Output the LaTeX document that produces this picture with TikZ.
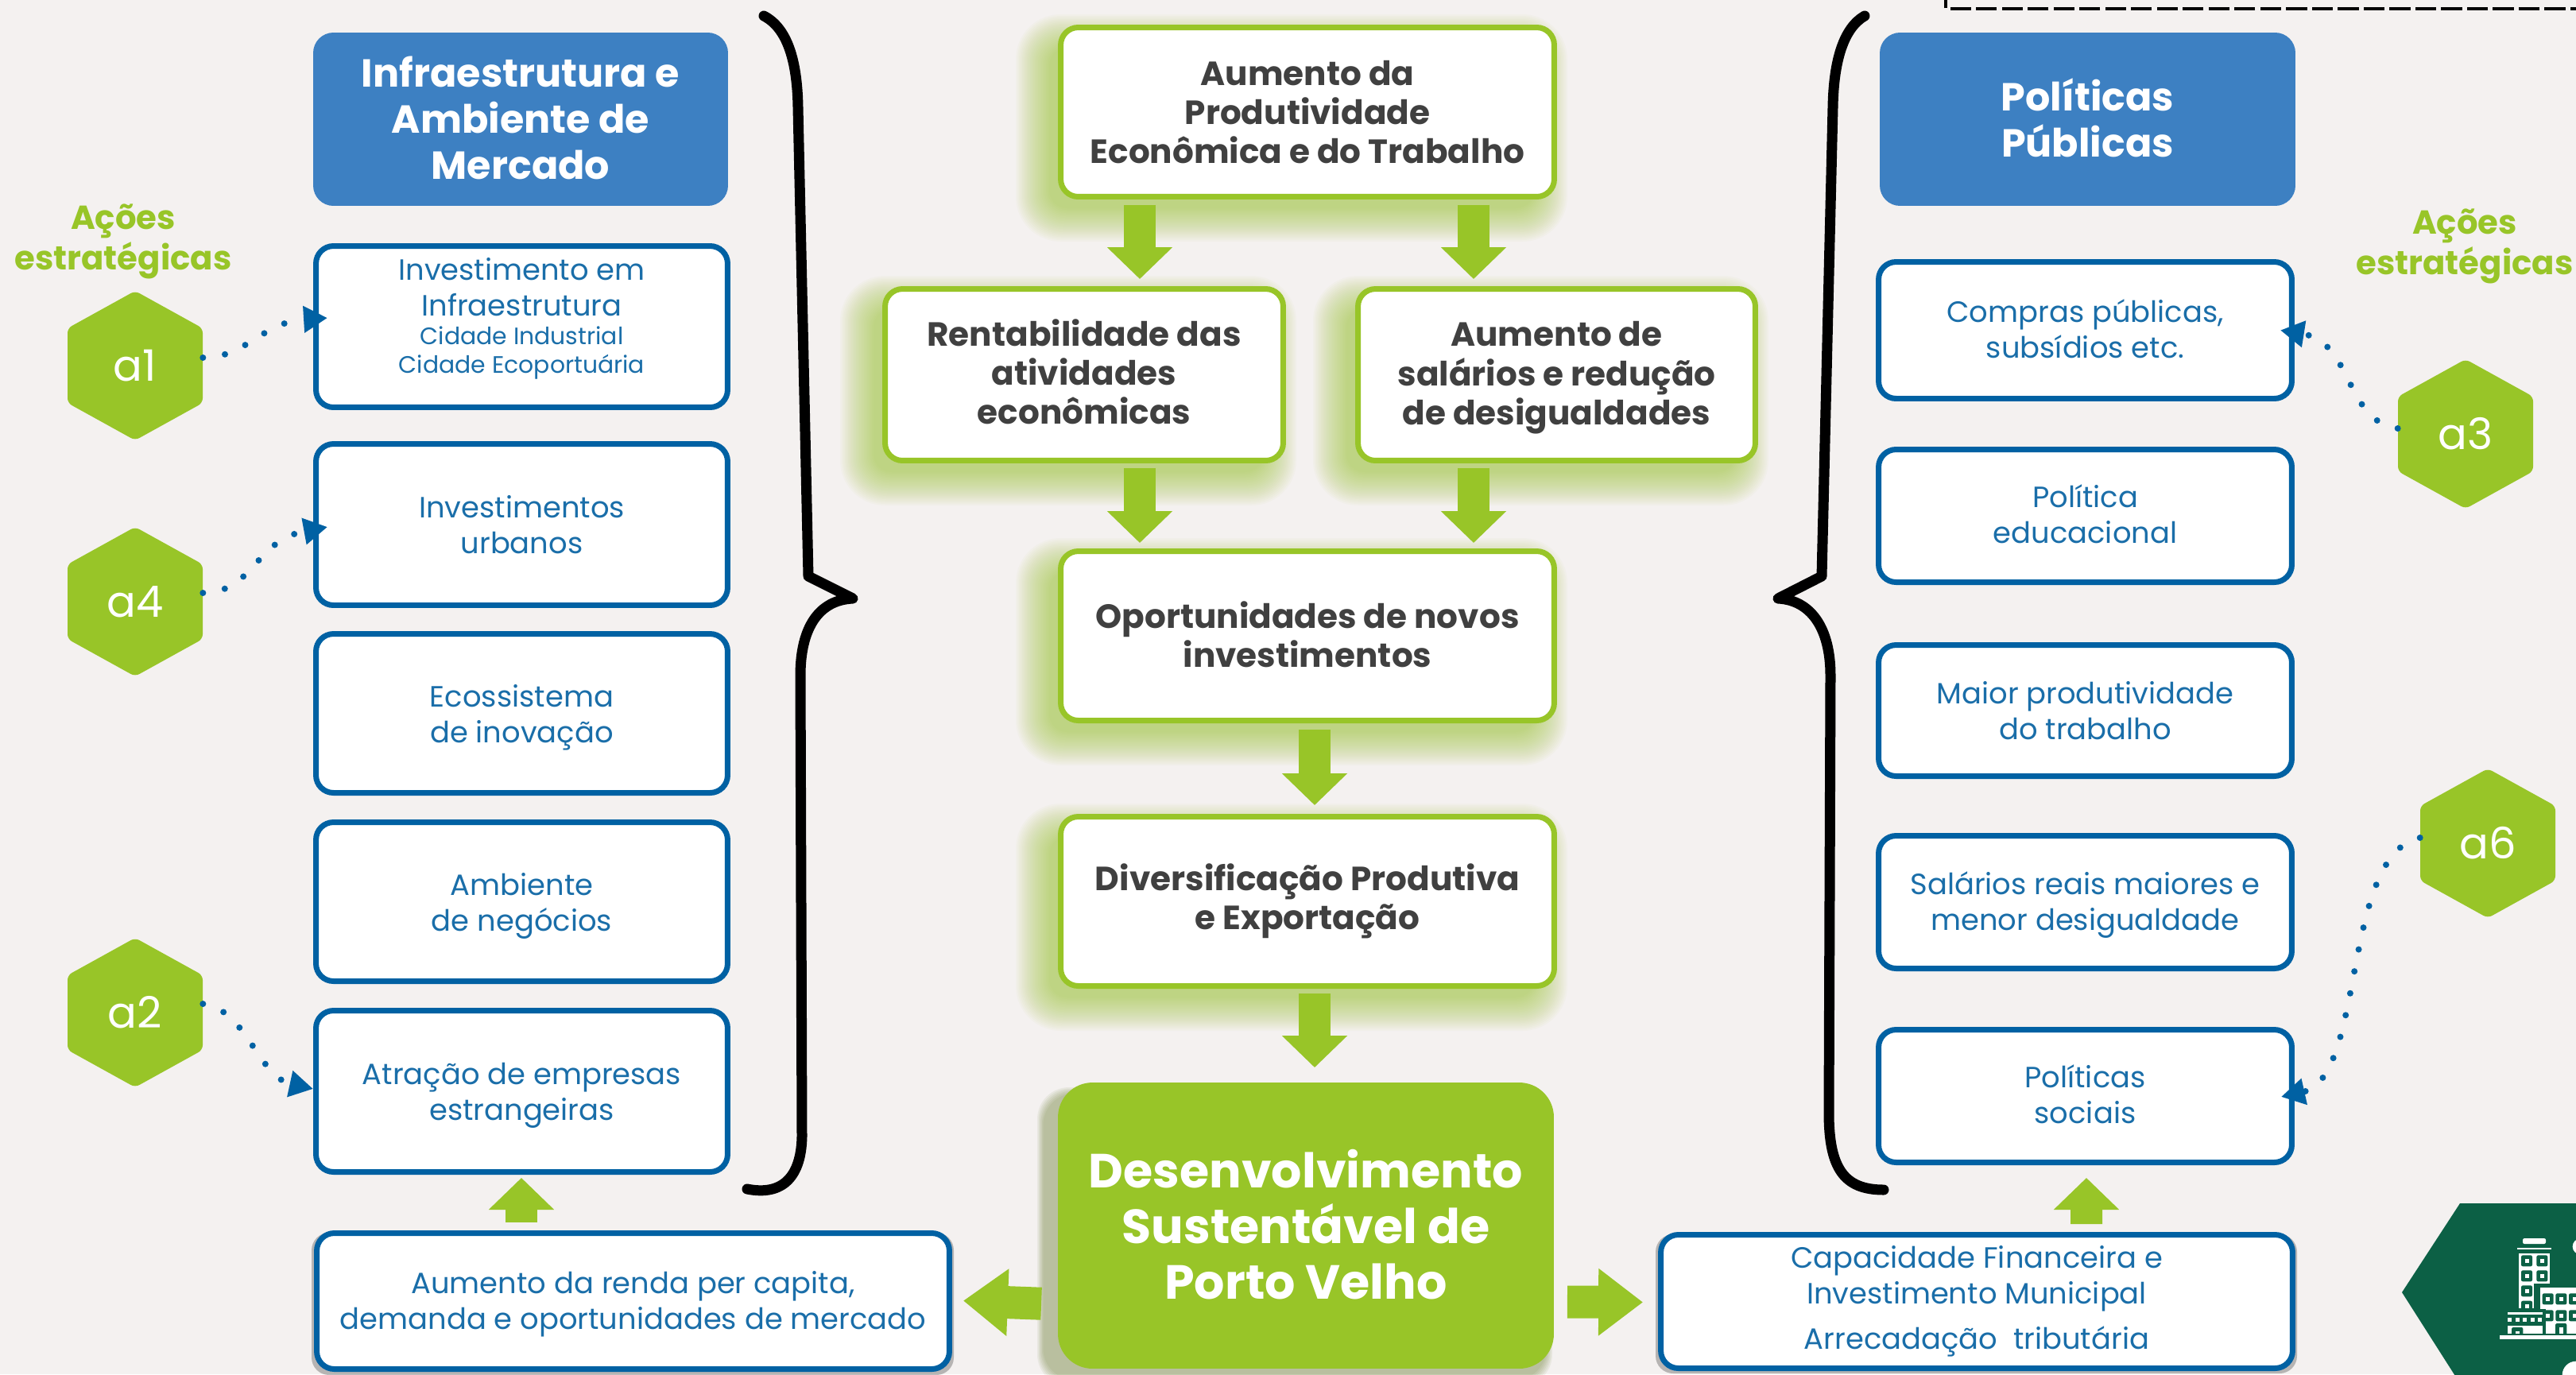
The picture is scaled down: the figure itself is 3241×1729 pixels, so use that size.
\documentclass[tikz,border=0pt]{standalone}
\usepackage{fontspec}
\setmainfont{Poppins}
\usetikzlibrary{arrows.meta,calc}
\definecolor{bgc}{HTML}{F4F1F0}
\definecolor{grn}{HTML}{98C528}
\definecolor{bluea}{HTML}{3D80C2}
\definecolor{blueb}{HTML}{0061A3}
\definecolor{bluet}{HTML}{1A6EA9}
\definecolor{dk}{HTML}{404040}
\definecolor{dkg}{HTML}{0C6045}
\def\PX{0.56906pt}
\newcommand\smf{\fontsize{17}{19}\selectfont}
\newcommand\pbox[7]{%
  \pgfmathsetmacro\cxx{(#2+#4)/2}%
  \pgfmathsetmacro\cyy{(#3+#5)/2}%
  \pgfmathsetmacro\bww{#4-#2-7}%
  \pgfmathsetmacro\bhh{#5-#3-7}%
  \node[#6, minimum width=\bww*\PX, minimum height=\bhh*\PX] (#1) at (\cxx,\cyy) {#7};}
\newcommand\glow[4]{%
  \foreach \k in {0,...,21}{%
    \pgfmathsetmacro\ee{33-2*\k}%
    \fill[grn,opacity=.032,rounded corners=(30+\ee*.8)*\PX]
      ({#1-20-\ee},{#2+20-\ee}) rectangle ({#3-20+\ee},{#4+20+\ee});}}
\newcommand\hexn[3]{%
  \fill[hexfill] (#2,#3-94) -- (#2+85,#3-47) -- (#2+85,#3+47) -- (#2,#3+94) -- (#2-85,#3+47) -- (#2-85,#3-47) -- cycle;
  \node[hexlbl] (#1) at (#2,#3) {#1};}
\tikzset{
  x=0.02cm,y=-0.02cm,
  head/.style={draw=bluea,fill=bluea,line width=7*\PX,rounded corners=22*\PX,text=white,align=center,inner sep=0pt,
     font=\bfseries\fontsize{28}{33}\selectfont},
  blbox/.style={draw=blueb,fill=white,line width=7*\PX,rounded corners=22*\PX,text=bluet,align=center,inner sep=0pt,
     font=\fontsize{21}{25.6}\selectfont},
  gbox/.style={draw=grn,fill=white,line width=7*\PX,rounded corners=22*\PX,text=dk,align=center,inner sep=0pt,
     font=\bfseries\fontsize{24}{28}\selectfont},
  devbox/.style={draw=grn,fill=grn,line width=7*\PX,rounded corners=40*\PX,text=white,align=center,inner sep=0pt,
     font=\bfseries\fontsize{34.3}{40}\selectfont},
  hexfill/.style={fill=grn,rounded corners=6*\PX},
  hexlbl/.style={minimum width=170*\PX,minimum height=188*\PX,inner sep=0pt,text=white,font=\fontsize{31}{36}\selectfont},
  acts/.style={text=grn,align=center,inner sep=0pt,font=\bfseries\fontsize{23.8}{28.6}\selectfont},
  dotconn/.style={blueb,line width=8*\PX,line cap=round,dash pattern=on 0pt off 16pt,
     -{Triangle[length=30*\PX,width=32*\PX]}},
  blockv/.style={grn,line width=40*\PX,-{Triangle[length=40*\PX,width=80*\PX]}},
  blockh/.style={grn,line width=41*\PX,-{Triangle[length=56*\PX,width=81*\PX]}},
  brace/.style={black,line width=13*\PX,line cap=round,line join=round},
}
\begin{document}
\begin{tikzpicture}
\path[use as bounding box,fill=bgc] (0,0) rectangle (3241,1729);
\clip (0,0) rectangle (3241,1729);
% dashed frame at top right
\draw[black,line width=4*\PX,dash pattern=on 15pt off 3.5pt] (3260,11) -- (2448,11) -- (2448,-20);
% glows
\glow{1331}{31}{1959}{251}
\glow{1110}{360}{1618}{583}
\glow{1705}{360}{2212}{583}
\glow{1331}{690}{1959}{910}
\glow{1331}{1024}{1959}{1244}
\foreach \k in {0,...,5}{\pgfmathsetmacro\ee{8-1.5*\k}
  \fill[black!45!grn,opacity=.07,rounded corners=40*\PX] ({1331-18-\ee},{1362+14-\ee}) rectangle ({1955-10+\ee},{1722+14+\ee});}
\fill[black,opacity=.25,rounded corners=22*\PX] (392,1551) rectangle (1200,1730);
\fill[black,opacity=.25,rounded corners=22*\PX] (2083,1553) rectangle (2890,1728);
% left column
\pbox{hl}{394}{41}{916}{259}{head}{Infraestrutura e\\Ambiente de\\Mercado\\[-31pt]\mbox{}}
\pbox{l1}{394}{306}{919}{516}{blbox}{Investimento em\\Infraestrutura\\[-5.3pt]{\smf Cidade Industrial}\\[-5.3pt]{\smf Cidade Ecoportuária}\\[-9.5pt]\mbox{}}
\pbox{l2}{394}{555}{919}{765}{blbox}{Investimentos\\urbanos}
\pbox{l3}{394}{794}{919}{1001}{blbox}{\rule{0pt}{22pt}Ecossistema\\de inovação}
\pbox{l4}{394}{1031}{919}{1238}{blbox}{\rule{0pt}{22pt}Ambiente\\de negócios}
\pbox{l5}{394}{1268}{919}{1478}{blbox}{\rule{0pt}{22pt}Atração de empresas\\estrangeiras}
\pbox{lb}{395}{1548}{1198}{1726}{blbox}{\rule{0pt}{20pt}Aumento da renda per capita,\\demanda e oportunidades de mercado}
% centre column
\pbox{c1}{1331}{31}{1959}{251}{gbox}{Aumento da\\Produtividade\\Econômica e do Trabalho}
\pbox{c2}{1110}{360}{1618}{583}{gbox}{Rentabilidade das\\atividades\\econômicas\\[-23.4pt]\mbox{}}
\pbox{c3}{1705}{360}{2212}{583}{gbox}{\rule{0pt}{22pt}Aumento de\\salários e redução\\de desigualdades}
\pbox{c4}{1331}{690}{1959}{910}{gbox}{Oportunidades de novos\\investimentos\\[-26pt]\mbox{}}
\pbox{c5}{1331}{1024}{1959}{1244}{gbox}{Diversificação Produtiva\\e Exportação}
\pbox{dev}{1331}{1362}{1955}{1722}{devbox}{Desenvolvimento\\Sustentável de\\Porto Velho\\[-38pt]\mbox{}}
% right column
\pbox{hr}{2365}{41}{2888}{259}{head}{Políticas\\Públicas\\[-31pt]\mbox{}}
\pbox{r1}{2360}{326}{2887}{505}{blbox}{Compras públicas,\\subsídios etc.\\[-23.3pt]\mbox{}}
\pbox{r2}{2360}{562}{2887}{736}{blbox}{Política\\educacional\\[-23.3pt]\mbox{}}
\pbox{r3}{2360}{808}{2887}{980}{blbox}{Maior produtividade\\do trabalho}
\pbox{r4}{2360}{1048}{2887}{1222}{blbox}{\rule{0pt}{20pt}Salários reais maiores e\\menor desigualdade}
\pbox{r5}{2360}{1292}{2887}{1466}{blbox}{Políticas\\sociais\\[-23.3pt]\mbox{}}
\pbox{rb}{2086}{1550}{2888}{1725}{blbox}{Capacidade Financeira e\\Investimento Municipal\\[7pt]Arrecadação\ \ tributária}
% block arrows
\draw[blockv,shorten <=7*\PX,shorten >=9*\PX] ([shift={(-211,0)}]c1.south) -- ([shift={(70,0)}]c2.north);
\draw[blockv,shorten <=7*\PX,shorten >=9*\PX] ([shift={(209,0)}]c1.south) -- ([shift={(-104.5,0)}]c3.north);
\draw[blockv,shorten <=6*\PX,shorten >=7*\PX] ([shift={(70,0)}]c2.south) -- ([shift={(-211,0)}]c4.north);
\draw[blockv,shorten <=6*\PX,shorten >=7*\PX] ([shift={(-104.5,0)}]c3.south) -- ([shift={(209,0)}]c4.north);
\draw[blockv,shorten <=8*\PX,shorten >=11*\PX] ([shift={(9,0)}]c4.south) -- ([shift={(9,0)}]c5.north);
\draw[blockv,shorten <=6*\PX,shorten >=19*\PX] ([shift={(9,0)}]c5.south) -- ([shift={(11,0)}]dev.north);
\draw[blockv,shorten <=10*\PX,shorten >=4*\PX] ([shift={(-140.5,0)}]lb.north) -- ([shift={(-0.5,0)}]l5.south);
\draw[blockv,shorten <=10*\PX,shorten >=16*\PX] ([shift={(138,0)}]rb.north) -- ([shift={(1.5,0)}]r5.south);
\draw[blockh,shorten <=21*\PX,shorten >=14*\PX] ([shift={(0,99)}]dev.west) -- ([shift={(0,-1)}]lb.east);
\draw[blockh,shorten <=17*\PX,shorten >=19*\PX] ([shift={(0,96)}]dev.east) -- ([shift={(0,1)}]rb.west);
% braces
\draw[brace] (961,20) .. controls (990,35) and (1003,75) .. (1004,135) -- (1017,725) -- (1073,753)
   .. controls (1030,755) and (1007,790) .. (1007,850) -- (1009,1430) .. controls (1008,1480) and (985,1505) .. (940,1496);
\draw[brace] (2346,20) .. controls (2320,35) and (2307,75) .. (2306,135) -- (2292,725) -- (2237,753)
   .. controls (2278,755) and (2303,790) .. (2303,850) -- (2301,1400) .. controls (2301,1470) and (2320,1497) .. (2370,1497);
% labels
\node[acts] (al) at (155,304) {Ações\\estratégicas};
\node[acts] (ar) at (3101,310) {Ações\\estratégicas};
% hexagons
\hexn{a1}{170}{460}
\hexn{a4}{170}{757}
\hexn{a2}{170}{1274}
\hexn{a3}{3102}{546}
\hexn{a6}{3130}{1061}
% dotted connectors
\draw[dotconn] ([shift={(0,-10)}]a1.east) .. controls (310,450) and (330,405) .. ([shift={(18,-11)}]l1.west);
\draw[dotconn] ([shift={(0,-11)}]a4.east) .. controls (320,745) and (320,680) .. ([shift={(18,3)}]l2.west);
\draw[dotconn] ([shift={(0,-11)}]a2.east) .. controls (310,1270) and (325,1355) .. ([shift={(0,-3)}]l5.west);
\draw[dotconn] ([shift={(0,-7)}]a3.west) .. controls (2950,530) and (2960,430) .. ([shift={(-18,0)}]r1.east);
\draw[dotconn] ([shift={(0,-7)}]a6.west) .. controls (2945,1075) and (2977,1356) .. ([shift={(-17,1)}]r5.east);
% city icon
\fill[dkg] (3022,1626) -- (3095,1514) -- (3260,1514) -- (3260,1750) -- (3101,1750) -- cycle;
\begin{scope}[shift={(3100,1530)},x=0.02cm/3,y=-0.02cm/3]
  \fill[white,rounded corners=1.2pt] (222,84) rectangle (309,105);
  \fill[white] (201,119) rectangle (331,127);
  \fill[white] (208,141) rectangle (323,255);
  \fill[white] (208,255) rectangle (265,348);
  \foreach \xa/\ya in {216/148,274/148,216/205,274/205,216/262,216/320}{
    \fill[dkg,rounded corners=1.2pt] (\xa,\ya) rectangle (\xa+42,\ya+42);
    \fill[white] (\xa+14,\ya+14) rectangle (\xa+29,\ya+29);}
  \fill[dkg] (208,348) rectangle (300,362);
  \fill[white] (288,270) rectangle (430,443);
  \foreach \xa/\ya in {296/292,346/292,396/292,296/355,346/355,396/355}{
    \fill[dkg,rounded corners=1.2pt] (\xa,\ya) rectangle (\xa+42,\ya+42);
    \fill[white] (\xa+14,\ya+14) rectangle (\xa+29,\ya+29);}
  \fill[dkg] (155,350) rectangle (309,450);
  \fill[white] (165,363) rectangle (297,372);
  \foreach \xa in {165,195,222,252,280}{\fill[white] (\xa,384) rectangle (\xa+15,399);}
  \fill[white] (165,413) rectangle (297,443);
  \fill[dkg,rounded corners=1.2pt] (180,420) rectangle (223,450);
  \fill[white] (195,435) rectangle (210,443);
  \fill[dkg,rounded corners=1.2pt] (345,405) rectangle (388,450);
  \fill[white] (360,420) rectangle (375,443);
  \fill[dkg] (155,443) rectangle (430,450);
  \fill[white] (135,450) rectangle (430,465);
  \fill[white] (440,115) circle (30);
  \fill[white] (423,600) circle (52);
\end{scope}
\end{tikzpicture}
\end{document}
